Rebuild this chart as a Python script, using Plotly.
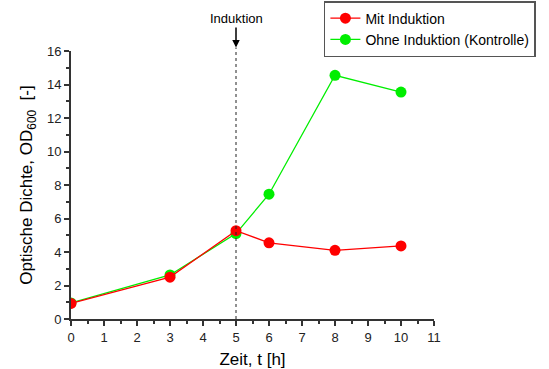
import plotly.graph_objects as go

# Zeitpunkte der Probenahme [h]
zeit = [0, 3, 5, 6, 8, 10]
# OD600 mit Induktion
od_mit = [0.93, 2.5, 5.27, 4.55, 4.1, 4.36]
# OD600 ohne Induktion (Kontrolle)
od_ohne = [0.96, 2.63, 5.1, 7.45, 14.55, 13.55]
# Zeitpunkt der Induktion
t_induktion = 5

FONT = "Liberation Sans, Arial, sans-serif"

fig = go.Figure()

fig.add_trace(go.Scatter(
    x=zeit, y=od_ohne, mode="lines+markers",
    name="Ohne Induktion (Kontrolle)", legendrank=2,
    line=dict(color="#00ee00", width=1.3),
    marker=dict(color="#00ee00", size=11),
))
fig.add_trace(go.Scatter(
    x=zeit, y=od_mit, mode="lines+markers",
    name="Mit Induktion", legendrank=1,
    line=dict(color="#ff0000", width=1.3),
    marker=dict(color="#ff0000", size=11),
))

# Gepunktete Linie beim Induktionszeitpunkt (etwas über die Achse hinaus)
fig.add_shape(type="line", x0=t_induktion, x1=t_induktion, y0=0, y1=1.013,
              xref="x", yref="paper", line=dict(color="#222", width=1, dash="dot"))

fig.add_annotation(
    x=t_induktion, y=1.013, xref="x", yref="paper",
    text="Induktion", showarrow=True, arrowhead=2, arrowsize=1,
    arrowwidth=1.5, arrowcolor="black", ax=0, ay=-29,
    font=dict(family=FONT, size=13, color="black"),
)

axis_common = dict(
    showline=True, linecolor="#333", linewidth=2,
    ticks="outside", ticklen=5, tickwidth=1.5, tickcolor="#333",
    showgrid=False, zeroline=False, automargin=False,
    tickfont=dict(family=FONT, size=13, color="#222"),
)

fig.update_xaxes(
    range=[0, 11], dtick=1, tick0=0,
    minor=dict(ticks="outside", ticklen=3, tickwidth=1.5, tickcolor="#333", dtick=0.5),
    title=dict(text="Zeit, t [h]", font=dict(family=FONT, size=17, color="black"), standoff=10),
    **axis_common,
)
fig.update_yaxes(
    range=[0, 16], dtick=2, tick0=0,
    minor=dict(ticks="outside", ticklen=3, tickwidth=1.5, tickcolor="#333", dtick=1),
    title=dict(text="Optische Dichte, OD<sub>600</sub>  [-]",
               font=dict(family=FONT, size=17, color="black"), standoff=10),
    **axis_common,
)

fig.update_layout(
    width=549, height=369,
    margin=dict(l=71, r=115, t=51, b=50, autoexpand=False),
    plot_bgcolor="white", paper_bgcolor="white",
    showlegend=True,
    legend=dict(
        xref="container", yref="container",
        x=0.59, y=0.997, xanchor="left", yanchor="top",
        bgcolor="white", bordercolor="#555", borderwidth=1.5,
        font=dict(family=FONT, size=14, color="black"),
        tracegroupgap=0, itemwidth=30,
    ),
)

fig.write_html("out.html")
